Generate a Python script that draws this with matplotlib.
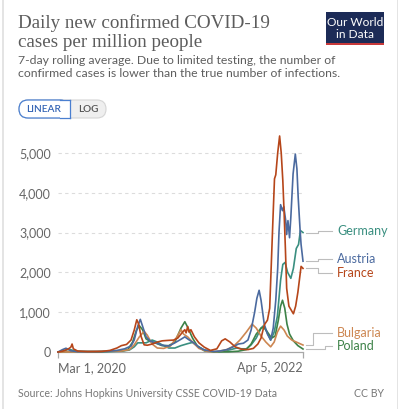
import matplotlib
matplotlib.use("Agg")
import matplotlib.pyplot as plt
from matplotlib.patches import FancyBboxPatch, Rectangle
from matplotlib.transforms import IdentityTransform, blended_transform_factory
import pandas as pd

# values (cases per million, 7-day avg)
france_dates = ["2020-03-01", "2020-03-15", "2020-04-01", "2020-04-10", "2020-04-14", "2020-04-18", "2020-05-01",
                "2020-06-01", "2020-07-15", "2020-08-10", "2020-09-01", "2020-09-15", "2020-10-01", "2020-10-15",
                "2020-10-25", "2020-11-02", "2020-11-08", "2020-11-15", "2020-11-25", "2020-12-05", "2020-12-20",
                "2021-01-05", "2021-01-20", "2021-02-05", "2021-02-25", "2021-03-10", "2021-03-25", "2021-04-01",
                "2021-04-05", "2021-04-10", "2021-04-14", "2021-04-20", "2021-05-01", "2021-05-15", "2021-06-01",
                "2021-06-20", "2021-07-10", "2021-07-25", "2021-08-05", "2021-08-20", "2021-09-05", "2021-09-25",
                "2021-10-15", "2021-11-01", "2021-11-15", "2021-11-25", "2021-12-05", "2021-12-15", "2021-12-22",
                "2021-12-27", "2022-01-01", "2022-01-06", "2022-01-10", "2022-01-16", "2022-01-22", "2022-01-27",
                "2022-02-01", "2022-02-05", "2022-02-09", "2022-02-13", "2022-02-20", "2022-03-06", "2022-03-13",
                "2022-03-20", "2022-03-30", "2022-04-05"]
france = [0, 20, 70, 120, 200, 80, 25,
          10, 12, 40, 100, 160, 190, 300,
          550, 810, 700, 400, 180, 170, 200,
          250, 280, 290, 300, 350, 500, 560,
          480, 640, 500, 560, 380, 230, 120,
          40, 80, 280, 330, 250, 130, 70,
          60, 90, 200, 350, 680, 800, 1100,
          2200, 3300, 4350, 4450, 5000, 5425, 5000,
          4300, 3500, 2600, 1600, 1150, 960, 1150,
          1500, 2150, 2100]

austria_dates = ["2020-03-01", "2020-03-15", "2020-03-26", "2020-04-10", "2020-05-01", "2020-07-01", "2020-08-01",
                 "2020-09-01", "2020-09-25", "2020-10-15", "2020-10-25", "2020-11-05", "2020-11-13", "2020-11-20",
                 "2020-12-01", "2020-12-15", "2021-01-01", "2021-01-20", "2021-02-10", "2021-03-01", "2021-03-20",
                 "2021-04-01", "2021-04-15", "2021-05-01", "2021-05-15", "2021-06-01", "2021-07-01", "2021-07-20",
                 "2021-08-10", "2021-08-30", "2021-09-15", "2021-10-01", "2021-10-15", "2021-10-25", "2021-11-05",
                 "2021-11-12", "2021-11-19", "2021-11-25", "2021-12-05", "2021-12-15", "2021-12-25", "2022-01-02",
                 "2022-01-10", "2022-01-16", "2022-01-20", "2022-01-25", "2022-01-31", "2022-02-04", "2022-02-10",
                 "2022-02-13", "2022-02-17", "2022-02-22", "2022-02-26", "2022-03-05", "2022-03-12", "2022-03-17",
                 "2022-03-21", "2022-03-27", "2022-03-30", "2022-04-05"]
austria = [0, 60, 95, 30, 8, 10, 15,
           40, 80, 150, 300, 650, 820, 650,
           380, 270, 230, 170, 150, 230, 320,
           380, 300, 220, 120, 50, 12, 25,
           60, 130, 200, 220, 300, 550, 1000,
           1350, 1550, 1300, 700, 450, 300, 600,
           1300, 2100, 3000, 3700, 3550, 3650, 3300,
           2950, 3300, 2870, 3380, 4470, 4970, 4600,
           3880, 3050, 2700, 2280]

germany_dates = ["2020-03-01", "2020-03-20", "2020-04-01", "2020-04-10", "2020-05-01", "2020-07-01", "2020-08-15",
                 "2020-09-15", "2020-10-10", "2020-10-25", "2020-11-05", "2020-11-20", "2020-12-01", "2020-12-20",
                 "2021-01-05", "2021-01-20", "2021-02-10", "2021-03-01", "2021-03-20", "2021-04-10", "2021-04-25",
                 "2021-05-10", "2021-06-01", "2021-07-01", "2021-07-25", "2021-08-20", "2021-09-10", "2021-09-25",
                 "2021-10-10", "2021-10-25", "2021-11-10", "2021-11-25", "2021-12-01", "2021-12-10", "2021-12-25",
                 "2022-01-05", "2022-01-15", "2022-01-25", "2022-02-01", "2022-02-08", "2022-02-16", "2022-02-26",
                 "2022-03-06", "2022-03-15", "2022-03-22", "2022-03-28", "2022-04-05"]
germany = [0, 30, 70, 55, 15, 5, 15,
           20, 50, 130, 230, 230, 230, 300,
           250, 180, 100, 100, 160, 210, 240,
           150, 50, 8, 15, 55, 100, 80,
           80, 180, 350, 600, 650, 550, 300,
           500, 900, 1800, 2200, 2250, 2000, 1850,
           2100, 2600, 2700, 3050, 3000]

poland_dates = ["2020-03-01", "2020-04-01", "2020-05-15", "2020-07-01", "2020-08-15", "2020-09-15", "2020-10-05",
                "2020-10-20", "2020-11-01", "2020-11-10", "2020-11-20", "2020-12-01", "2020-12-15", "2021-01-01",
                "2021-01-20", "2021-02-10", "2021-03-01", "2021-03-20", "2021-04-01", "2021-04-10", "2021-04-25",
                "2021-05-10", "2021-06-01", "2021-07-01", "2021-08-15", "2021-09-15", "2021-10-10", "2021-10-25",
                "2021-11-10", "2021-11-25", "2021-12-05", "2021-12-15", "2021-12-28", "2022-01-08", "2022-01-18",
                "2022-01-25", "2022-01-31", "2022-02-07", "2022-02-14", "2022-02-22", "2022-03-06", "2022-03-20",
                "2022-04-05"]
poland = [0, 10, 10, 8, 18, 25, 60,
          250, 550, 660, 560, 330, 260, 220,
          160, 160, 250, 600, 760, 620, 350,
          150, 30, 3, 5, 20, 60, 200,
          450, 600, 620, 500, 350, 400, 800,
          1150, 1300, 1100, 700, 450, 280, 160,
          75]

bulgaria_dates = ["2020-03-01", "2020-05-01", "2020-07-15", "2020-08-15", "2020-09-15", "2020-10-10", "2020-10-25",
                  "2020-11-10", "2020-11-25", "2020-12-05", "2020-12-20", "2021-01-05", "2021-01-25", "2021-02-15",
                  "2021-03-05", "2021-03-20", "2021-03-28", "2021-04-10", "2021-04-25", "2021-05-15", "2021-06-10",
                  "2021-07-10", "2021-08-10", "2021-09-01", "2021-09-20", "2021-10-10", "2021-10-28", "2021-11-10",
                  "2021-11-25", "2021-12-10", "2021-12-25", "2022-01-05", "2022-01-15", "2022-01-25", "2022-02-05",
                  "2022-02-15", "2022-03-01", "2022-03-15", "2022-04-05"]
bulgaria = [0, 5, 20, 25, 25, 60, 180,
            380, 520, 420, 200, 100, 90, 150,
            350, 560, 450, 380, 250, 90, 15,
            10, 60, 150, 300, 500, 700, 600,
            400, 250, 130, 250, 500, 650, 550,
            400, 300, 250, 175]

countries = ["Germany", "Poland", "Bulgaria", "Austria", "France"]
colors = {"Germany": "#3a8f80", "Austria": "#4b6a9f", "France": "#b6461a",
          "Bulgaria": "#cd8752", "Poland": "#3d8248"}
series = {"Germany": (germany_dates, germany), "Poland": (poland_dates, poland),
          "Bulgaria": (bulgaria_dates, bulgaria), "Austria": (austria_dates, austria),
          "France": (france_dates, france)}
label_y = {"Germany": 3050, "Austria": 2325, "France": 1975, "Bulgaria": 475, "Poland": 150}
bend_x = {"Germany": 1.06, "Austria": 1.06, "France": 1.06, "Bulgaria": 1.04, "Poland": 1.09}

yticks = [0, 1000, 2000, 3000, 4000, 5000]
start, end = pd.Timestamp("2020-03-01"), pd.Timestamp("2022-04-05")

W, H = 400, 409
fig = plt.figure(figsize=(W / 100, H / 100), dpi=100)
fig.patch.set_facecolor("white")
T = IdentityTransform()


def Y(y):
    return H - y


# card borders
fig.add_artist(Rectangle((2, 0), 1.5, H, transform=T, color="#e4e4e4", lw=0))
fig.add_artist(Rectangle((396.5, 0), 1.5, H, transform=T, color="#e4e4e4", lw=0))

serif = "Liberation Serif"
sans = "Lato"
fig.text(18, Y(28), "Daily new confirmed COVID-19", transform=T, fontsize=13.7, family=serif,
         color="#5c5c5c", va="baseline")
fig.text(18, Y(47), "cases per million people", transform=T, fontsize=13.7, family=serif,
         color="#5c5c5c", va="baseline")
fig.text(18, Y(64), "7-day rolling average. Due to limited testing, the number of", transform=T,
         fontsize=8.8, family=sans, color="#5e5e5e", va="baseline")
fig.text(18, Y(77), "confirmed cases is lower than the true number of infections.", transform=T,
         fontsize=8.8, family=sans, color="#5e5e5e", va="baseline")

# logo
fig.add_artist(Rectangle((326, Y(45)), 58, 33, transform=T, color="#1c2b57", lw=0))
fig.add_artist(Rectangle((326, Y(45)), 58, 2.5, transform=T, color="#c8393a", lw=0))
fig.text(355, Y(22), "Our World", transform=T, fontsize=8.6, family=sans, color="white",
         ha="center", va="center")
fig.text(355, Y(34), "in Data", transform=T, fontsize=8.6, family=sans, color="white",
         ha="center", va="center")

# linear / log toggle
fig.add_artist(FancyBboxPatch((19, Y(118)), 87, 18, boxstyle="round,pad=0,rounding_size=9",
                              transform=T, fc="#efefef", ec="#d5d5d5", lw=0.8))
fig.add_artist(FancyBboxPatch((19, Y(118)), 50, 18, boxstyle="round,pad=0,rounding_size=9",
                              transform=T, fc="white", ec="#4a7fd0", lw=0.9))
fig.add_artist(Rectangle((60, Y(117.5)), 9.5, 17, transform=T, fc="white", ec="none"))
fig.add_artist(plt.Line2D([69.5, 69.5], [Y(118), Y(100)], transform=T, color="#4a7fd0", lw=0.9))
fig.add_artist(plt.Line2D([60, 69.5], [Y(100), Y(100)], transform=T, color="#4a7fd0", lw=0.9))
fig.add_artist(plt.Line2D([60, 69.5], [Y(118), Y(118)], transform=T, color="#4a7fd0", lw=0.9))
fig.text(44, Y(109), "LINEAR", transform=T, fontsize=7.3, family=sans, color="#3565b5",
         ha="center", va="center", weight="semibold")
fig.text(88, Y(109), "LOG", transform=T, fontsize=7.3, family=sans, color="#555555",
         ha="center", va="center", weight="semibold")

# chart
ax = fig.add_axes([58 / W, 57 / H, 245 / W, 219 / H])
ax.set_xlim(start, end)
ax.set_ylim(0, 5500)
for c in countries:
    d, v = series[c]
    ax.plot(pd.to_datetime(d), v, color=colors[c], lw=1.2, solid_joinstyle="round", clip_on=False, zorder=3)

for s in ["top", "right", "left"]:
    ax.spines[s].set_visible(False)
ax.spines["bottom"].set_color("#a8a8a8")
ax.spines["bottom"].set_linewidth(0.9)
ax.set_yticks(yticks)
ax.set_yticklabels([f"{t:,}" for t in yticks], family=sans, fontsize=9, color="#666666")
ax.tick_params(axis="y", length=0, pad=5)
for t in yticks[1:]:
    ax.axhline(t, color="#dcdcdc", lw=0.8, ls=(0, (3, 3)), zorder=1)

ax.set_xticks([start, end])
ax.set_xticklabels(["Mar 1, 2020", "Apr 5, 2022"], family=sans, fontsize=9, color="#666666")
xl = ax.get_xticklabels()
xl[0].set_ha("left")
xl[1].set_ha("right")
ax.tick_params(axis="x", length=4, color="#a8a8a8", width=0.9, pad=3)

# right-hand labels with connectors
tr = blended_transform_factory(ax.transAxes, ax.transData)
for c in countries:
    v_end = series[c][1][-1]
    ly = label_y[c]
    bx = bend_x[c]
    ax.plot([1.012, bx, bx, 1.12], [v_end, v_end, ly, ly], transform=tr, color="#bdbdbd",
            lw=0.8, clip_on=False)
    ax.text(1.14, ly, c, transform=tr, family=sans, fontsize=9, color=colors[c], va="center")

fig.text(18, Y(397), "Source: Johns Hopkins University CSSE COVID-19 Data", transform=T, fontsize=7.6,
         family=sans, color="#777777", va="baseline")
fig.text(384, Y(397), "CC BY", transform=T, fontsize=7.6, family=sans, color="#777777",
         va="baseline", ha="right")

fig.savefig("out.png", dpi=100)
